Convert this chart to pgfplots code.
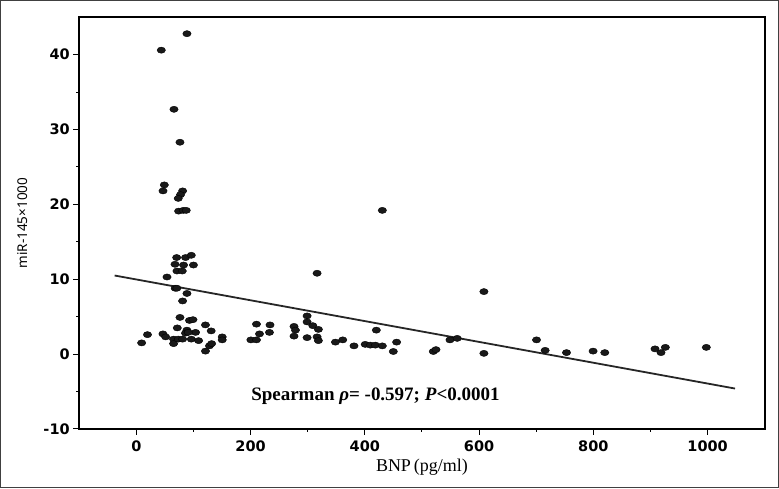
\documentclass[border=0pt]{standalone}
\usepackage{fontspec}
\setmainfont{Liberation Serif}
\newfontfamily\dejavu{DejaVu Sans}
\newfontfamily\notosans{Noto Sans}
\usepackage{pgfplots}
\pgfplotsset{compat=1.18}

\begin{document}
\begin{tikzpicture}
\begin{axis}[
  name=ax,
  scale only axis,
  width=686pt, height=412pt,
  xmin=-100, xmax=1100,
  ymin=-10, ymax=45,
  xtick={0,200,400,600,800,1000},
  xticklabels={0,200,400,600,800,1000},
  ytick={-10,0,10,20,30,40},
  yticklabels={-10,0,10,20,30,40},
  minor x tick num=1,
  minor y tick num=1,
  xtick pos=bottom, ytick pos=left,
  tick align=outside,
  major tick length=6pt,
  minor tick length=3pt,
  tick style={line width=1pt, black},
  axis line style={line width=1.6pt},
  ticklabel style={font=\dejavu\bfseries\fontsize{14.5}{14.5}\selectfont},
  xticklabel style={yshift=-2pt},
  xlabel={BNP\hspace{3pt}(pg/ml)},
  ylabel={miR-145×1000},
  every axis x label/.style={at={([yshift=-38pt]axis description cs:0.5,0)},anchor=center,
    font=\fontsize{18}{18}\selectfont},
  every axis y label/.style={at={([xshift=-57pt]axis description cs:0,0.5)},rotate=90,anchor=center,
    font=\notosans\fontsize{13.5}{13.5}\selectfont},
]
% regression line
\addplot[no marks, line width=1.8pt, black!85] coordinates {(-38,10.5) (1048,-4.6)};
% samples
\addplot[only marks, mark=*, mark size=3.1pt,
  mark options={xscale=1.35, fill=black!90, draw=none}] coordinates {
  (88.6,42.8) (43.7,40.6) (65.9,32.7) (76.4,28.3) (49,22.6) (46.7,21.8)
  (81,21.8) (77.4,21.3) (73.4,20.8) (74,19.1) (82.2,19.2) (87.4,19.2)
  (430.6,19.2)
  (70.6,12.9) (86.2,12.9) (96.2,13.2) (67.7,12.0) (82.7,11.9) (100,11.9)
  (71.1,11.1) (80.4,11.1) (53.7,10.3) (68,8.8) (71,8.8) (88.6,8.1) (81,7.1)
  (316.4,10.8) (608.4,8.35)
  (76.4,4.9) (93,4.5) (99.1,4.6) (71.7,3.5) (88.6,3.2) (86,2.8) (103.7,2.9)
  (90.9,2.9) (121,3.9) (131,3.1) (19.5,2.6) (46.6,2.7) (51.3,2.3) (9.3,1.5)
  (65.2,2.0) (65.2,1.4) (73.4,2.0) (81,2.0) (96.2,2.0) (109,1.8) (121,0.4)
  (128,1.1) (131.8,1.4) (150.3,2.3) (150.3,1.9)
  (200.5,1.9) (210.3,1.9) (210.3,4.0) (215.6,2.7) (234,3.9) (233,2.9)
  (276,3.7) (278.5,3.2) (276,2.4) (298.9,5.1) (298.9,4.3) (298.9,2.2)
  (308.9,3.8) (318.7,3.3) (316.4,2.3) (318.7,1.8) (348.5,1.6) (361.3,1.9)
  (381,1.1) (400.6,1.3) (409.6,1.2) (418.4,1.2) (430.6,1.1) (420.1,3.2)
  (449.8,0.35) (455.6,1.6) (519.8,0.35) (524.5,0.6) (549,1.9) (561.7,2.1)
  (608.4,0.1) (700.5,1.9) (715.6,0.5) (753,0.2) (799.5,0.4) (820,0.2)
  (907.9,0.7) (918.4,0.2) (926,0.9) (997.7,0.9)
};
\node[anchor=west, font=\bfseries\fontsize{19}{19}\selectfont]
  at (axis cs:195,-5.6) {Spearman \textit{ρ}= -0.597; \textit{P}<0.0001};
\end{axis}
\draw[black!75, line width=1.5pt]
  ([shift={(-78.5pt,-58.5pt)}]ax.south west) rectangle ([shift={(13.5pt,16.5pt)}]ax.north east);
\end{tikzpicture}
\end{document}
